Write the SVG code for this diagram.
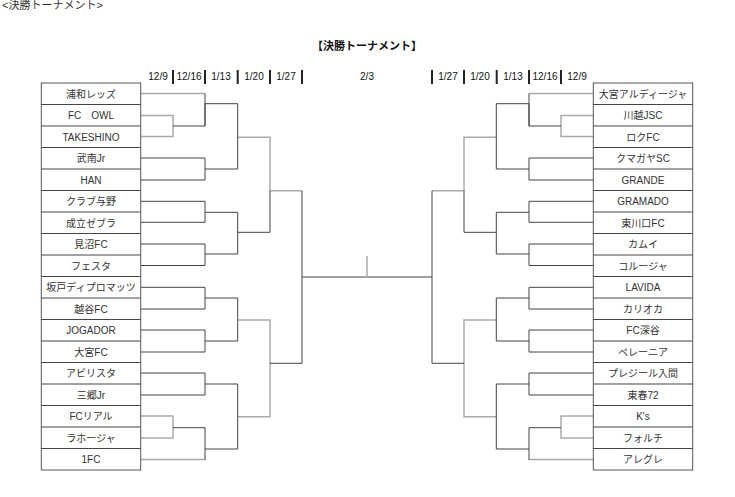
<svg xmlns="http://www.w3.org/2000/svg" xmlns:xlink="http://www.w3.org/1999/xlink" width="735" height="497" viewBox="0 0 735 497">
<style>
text{font-family:"Liberation Sans","Noto Sans CJK JP",sans-serif;fill:#333}
.t{font-size:10px;text-anchor:middle}
.d{font-size:10px;text-anchor:middle;fill:#111}
.box{fill:#fff;stroke:#555;stroke-width:1}
.k{fill:none;stroke:#444;stroke-width:1}
.g{fill:none;stroke:#aaa;stroke-width:1.5}
.bar{stroke:#222;stroke-width:2}
</style>
<defs>
<g id="half">
<path class="g" d="M140.7 93.5H205M140.7 136.5H173V115.5H140.7M140.7 438H173V416H140.7M140.7 459.5H205M237.7 137.3H270V190.7H302M237.7 320H270V416.7H237.7"/>
<path class="k" d="M173 126H205V93.5M205 126V103.7H237.7M140.7 158H205V180H140.7M205 169H237.7V103.7"/>
<path class="k" d="M140.7 201.3H205V222.3H140.7M205 212.3H237.7M140.7 244H205V265.5H140.7M205 254H237.7V212.3M237.7 232.3H270V190.7"/>
<path class="k" d="M140.7 287.3H205V309H140.7M205 298H237.7V341M140.7 330H205V352H140.7M205 341H237.7"/>
<path class="k" d="M140.7 373H205V395H140.7M205 384H237.7V449M173 427.7H205V460M205 449H237.7M270 363.3H302V190.7M302 277H367"/>
</g>
</defs>
<text x="2" y="9" style="font-size:11px">&lt;決勝トーナメント&gt;</text>
<text x="367" y="50" class="t" style="font-weight:bold;font-size:11px;fill:#111">【決勝トーナメント】</text>
<g id="dates">
<text class="d" x="158" y="80">12/9</text><text class="d" x="189" y="80">12/16</text><text class="d" x="221" y="80">1/13</text><text class="d" x="254" y="80">1/20</text><text class="d" x="286" y="80">1/27</text>
<text class="d" x="367" y="80">2/3</text>
<text class="d" x="448" y="80">1/27</text><text class="d" x="480" y="80">1/20</text><text class="d" x="513" y="80">1/13</text><text class="d" x="545" y="80">12/16</text><text class="d" x="577" y="80">12/9</text>
<path class="bar" d="M173 70V84M205 70V84M237.7 70V84M270 70V84M302 70V84M432 70V84M464 70V84M496.7 70V84M529 70V84M561 70V84"/>
</g>
<g id="connectors">
<use xlink:href="#half"/>
<use xlink:href="#half" transform="matrix(-1 0 0 1 734 0)"/>
<path class="g" d="M367 256V277"/>
</g>
<g id="left-teams">
<rect class="box" x="41.3" y="83" width="99.4" height="387"/>
<path class="k" d="M41.3 104.5H140.7M41.3 126H140.7M41.3 147.5H140.7M41.3 169H140.7M41.3 190.5H140.7M41.3 212H140.7M41.3 233.5H140.7M41.3 255H140.7M41.3 276.5H140.7M41.3 298H140.7M41.3 319.5H140.7M41.3 341H140.7M41.3 362.5H140.7M41.3 384H140.7M41.3 405.5H140.7M41.3 427H140.7M41.3 448.5H140.7"/>
<text class="t" x="91" y="97.5">浦和レッズ</text>
<text class="t" x="91" y="119">FC　OWL</text>
<text class="t" x="91" y="140.5">TAKESHINO</text>
<text class="t" x="91" y="162">武南Jr</text>
<text class="t" x="91" y="183.5">HAN</text>
<text class="t" x="91" y="205">クラブ与野</text>
<text class="t" x="91" y="226.5">成立ゼブラ</text>
<text class="t" x="91" y="248">見沼FC</text>
<text class="t" x="91" y="269.5">フェスタ</text>
<text class="t" x="91" y="291">坂戸ディプロマッツ</text>
<text class="t" x="91" y="312.5">越谷FC</text>
<text class="t" x="91" y="334">JOGADOR</text>
<text class="t" x="91" y="355.5">大宮FC</text>
<text class="t" x="91" y="377">アビリスタ</text>
<text class="t" x="91" y="398.5">三郷Jr</text>
<text class="t" x="91" y="420">FCリアル</text>
<text class="t" x="91" y="441.5">ラホージャ</text>
<text class="t" x="91" y="463">1FC</text>
</g>
<g id="right-teams">
<rect class="box" x="593.3" y="83" width="99.4" height="387"/>
<path class="k" d="M593.3 104.5H692.7M593.3 126H692.7M593.3 147.5H692.7M593.3 169H692.7M593.3 190.5H692.7M593.3 212H692.7M593.3 233.5H692.7M593.3 255H692.7M593.3 276.5H692.7M593.3 298H692.7M593.3 319.5H692.7M593.3 341H692.7M593.3 362.5H692.7M593.3 384H692.7M593.3 405.5H692.7M593.3 427H692.7M593.3 448.5H692.7"/>
<text class="t" x="643" y="97.5">大宮アルディージャ</text>
<text class="t" x="643" y="119">川越JSC</text>
<text class="t" x="643" y="140.5">ロクFC</text>
<text class="t" x="643" y="162">クマガヤSC</text>
<text class="t" x="643" y="183.5">GRANDE</text>
<text class="t" x="643" y="205">GRAMADO</text>
<text class="t" x="643" y="226.5">東川口FC</text>
<text class="t" x="643" y="248">カムイ</text>
<text class="t" x="643" y="269.5">コルージャ</text>
<text class="t" x="643" y="291">LAVIDA</text>
<text class="t" x="643" y="312.5">カリオカ</text>
<text class="t" x="643" y="334">FC深谷</text>
<text class="t" x="643" y="355.5">ペレーニア</text>
<text class="t" x="643" y="377">プレジール入間</text>
<text class="t" x="643" y="398.5">東春72</text>
<text class="t" x="643" y="420">K's</text>
<text class="t" x="643" y="441.5">フォルチ</text>
<text class="t" x="643" y="463">アレグレ</text>
</g>
</svg>
